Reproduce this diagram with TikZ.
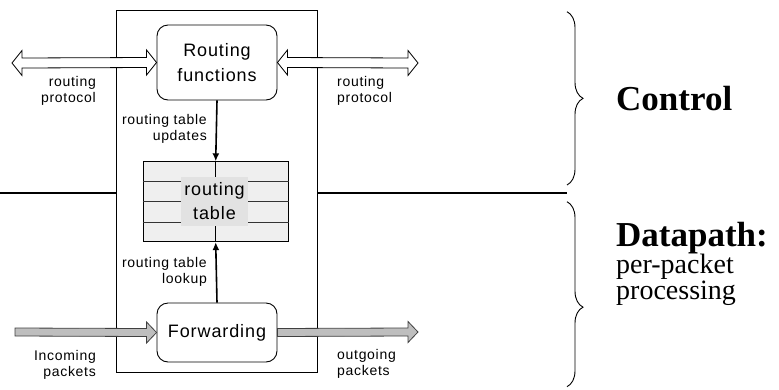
\documentclass[tikz,border=0pt]{standalone}
\usepackage{fontspec}
\setmainfont{Liberation Serif}
\newfontfamily\lblfont[LetterSpace=5]{Liberation Sans}
\usetikzlibrary{positioning,calc,arrows.meta,decorations.pathreplacing}

\definecolor{tblfill}{HTML}{EFEFEF}
\definecolor{namefill}{HTML}{E2E2E2}
\definecolor{pktfill}{HTML}{BEBEBE}

\newcommand{\tightlines}{\lineskiplimit=-50pt\relax}

\tikzset{
  procbox/.style={draw, rounded corners=11pt, line width=0.9pt, fill=white, minimum width=120pt,
    inner sep=0pt, align=center, font=\lblfont\fontsize{18}{25}\selectfont},
  lbl/.style={inner sep=0pt, font=\lblfont\fontsize{14}{16}\selectfont},
  flow/.style={line width=1.6pt, -{Latex[length=8pt,width=7pt]}},
  sep/.style={line width=2.8pt},
  brc/.style={line width=0.9pt, decorate, decoration={brace, amplitude=16pt, #1}},
  brc/.default={aspect=0.5},
  hollowarrow/.style={draw, line width=0.8pt, fill=white, to path={
    (\tikztostart) -- ++(10,-12.5) -- ++(0,7.5) -- ($(\tikztotarget)+(-10,-5)$) -- ++(0,-7.5)
    -- (\tikztotarget) -- ++(-10,12.5) -- ++(0,-7.5) -- ($(\tikztostart)+(10,5)$) -- ++(0,7.5) -- cycle}},
  grayarrow/.style={draw=black!75, line width=0.8pt, fill=pktfill, to path={
    ($(\tikztostart)+(0,-4)$) -- ($(\tikztotarget)+(-10,-4)$) -- ++(0,-6.5)
    -- (\tikztotarget) -- ++(-10,10.5) -- ++(0,-6.5) -- ($(\tikztostart)+(0,4)$) -- cycle}},
}

\begin{document}
\begin{tikzpicture}[x=1pt, y=-1pt]
\useasboundingbox (0,0) rectangle (779,389);

% router frame
\node[draw, line width=0.8pt, minimum width=201pt, minimum height=362pt, inner sep=0pt] (rtr) at (216.5,191) {};

% control / data boundary
\coordinate (sepl) at (0,193);
\coordinate (sepr) at (567,193);
\draw[sep] (sepl) -- (sepl -| rtr.west);
\draw[sep] (sepr -| rtr.east) -- (sepr);

% boxes
\node[procbox, minimum height=75pt] (rf) at (217,62.5) {Routing\\functions};
\node[procbox, minimum height=59pt] (fw) at (217,332.5) {Forwarding};

% routing table
\node[draw, line width=0.8pt, fill=tblfill, minimum width=145pt, minimum height=80pt, inner sep=0pt] (tbl) at (215.7,201.7) {};
\foreach \r in {1,2,3}
  \draw[black!80, line width=0.7pt] ($(tbl.north west)!\r/4!(tbl.south west)$) -- ($(tbl.north east)!\r/4!(tbl.south east)$);
\draw[line width=0.7pt] (tbl.north) -- (tbl.south);
\node[fill=namefill, minimum width=67pt, minimum height=49pt, inner sep=0pt, align=center,
  font=\lblfont\fontsize{18}{24}\selectfont] (tblname) at (214.5,201.2) {routing\\table};

% table access
\draw[flow] (rf.south) -- (tbl.north);
\draw[flow] (fw.north) -- (tbl.south);
\node[lbl, anchor=east, align=right] (upd) at (207,129) {routing table\\updates};
\node[lbl, anchor=east, align=right] (lkp) at (207,272) {routing table\\lookup};

% routing protocol exchange
\coordinate (rpl) at (12,63);
\coordinate (rpr) at (418,63);
\draw[hollowarrow] (rpl) to (rf.west);
\draw[hollowarrow] (rf.east) to (rpr);
\node[lbl, anchor=east, align=right] (rpltxt) at (96,91) {routing\\protocol};
\node[lbl, anchor=west, align=left] (rprtxt) at (337,91) {routing\\protocol};

% packets
\coordinate (inp) at (15,332);
\coordinate (outp) at (418,332);
\draw[grayarrow] (inp) to (fw.west);
\draw[grayarrow] (fw.east) to (outp);
\node[lbl, anchor=east, align=right] (intxt) at (96,365) {Incoming\\packets};
\node[lbl, anchor=west, align=left] (outtxt) at (337,364) {outgoing\\packets};

% planes
\draw[brc] (567,11.7) -- (567,185);
\draw[brc={aspect=0.57}] (567,201.7) -- (567,386.7);
\node[anchor=base west, inner sep=0pt, font=\bfseries\fontsize{35}{40}\selectfont] (ctl) at (616,110) {Control};
\node[anchor=north west, inner sep=0pt, align=left,
  font=\fontsize{28}{25.5}\selectfont\tightlines] (dp) at (616,222)
  {\textbf{\fontsize{35}{25.5}\selectfont Datapath:}\\[2pt]per-packet\\processing};
\end{tikzpicture}
\end{document}
